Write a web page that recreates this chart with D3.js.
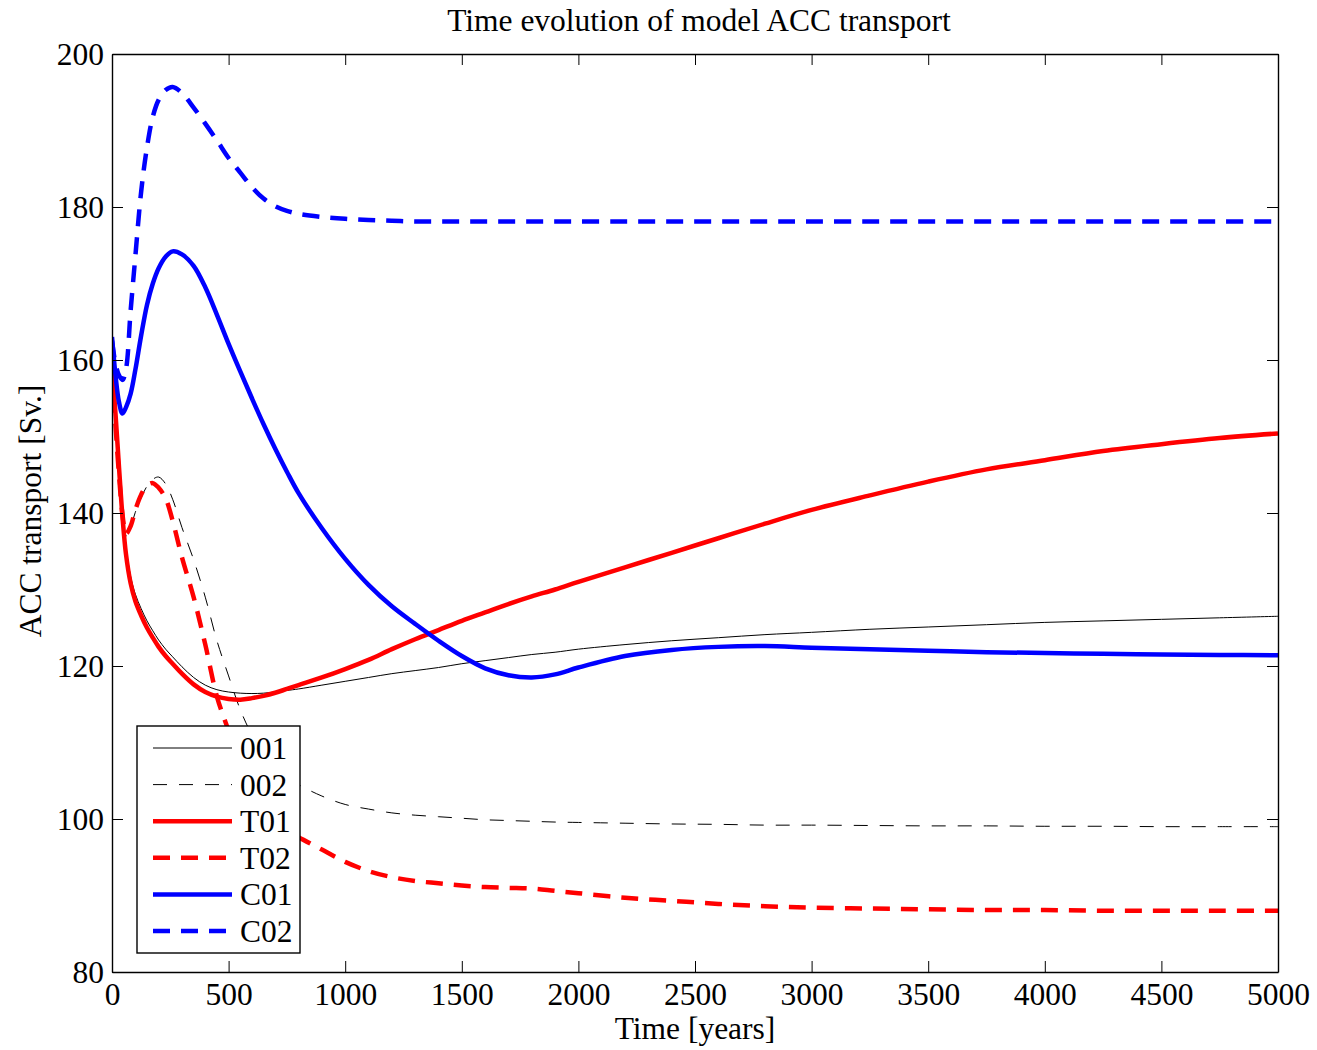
<!DOCTYPE html>
<html>
<head>
<meta charset="utf-8">
<script src="https://cdn.jsdelivr.net/npm/d3@7"></script>
<style>
  html, body { margin: 0; padding: 0; background: #fff; }
  svg { display: block; }
  text { font-family: "Liberation Serif", "Times New Roman", serif; fill: #000; }
</style>
</head>
<body>
<svg id="chart" width="1317" height="1050"></svg>
<script>
// ---- Data ----
const years = [0, 15, 30, 45, 60, 80, 100, 125, 150, 175, 200, 230, 260, 300, 350, 400, 450, 500, 550, 600,
  650, 700, 750, 800, 900, 1000, 1100, 1200, 1300, 1400, 1500, 1600, 1700, 1800, 1900, 2000, 2200, 2400, 2600, 2800,
  3000, 3250, 3500, 3750, 4000, 4250, 4500, 4750, 5000];

const s001 = [159, 153.3, 146.7, 140.3, 135.5, 131.7, 129.4, 127.5, 125.9, 124.6, 123.4, 122.2, 121.2, 119.9, 118.5, 117.5, 116.9, 116.6, 116.45, 116.4,
  116.45, 116.6, 116.8, 117.0, 117.5, 118.0, 118.5, 119.0, 119.4, 119.8, 120.3, 120.7, 121.1, 121.5, 121.8, 122.2, 122.8, 123.3, 123.7, 124.1,
  124.4, 124.8, 125.1, 125.4, 125.7, 125.9, 126.1, 126.3, 126.5];

const s002 = [159, 152, 145.5, 140, 137.0, 138.2, 140.1, 142.0, 143.5, 144.4, 144.7, 143.8, 141.8, 138.1, 133.9, 129.0, 123.3, 118.7, 114.3, 111.0,
  108.6, 106.9, 105.5, 104.5, 103.0, 101.9, 101.3, 100.8, 100.5, 100.3, 100.1, 99.9, 99.8, 99.7, 99.6, 99.55, 99.45, 99.35, 99.3, 99.2,
  99.2, 99.15, 99.1, 99.1, 99.05, 99.05, 99.0, 99.0, 99.0];

const sT01 = [159, 153, 146, 139.5, 134.6, 130.8, 128.5, 126.6, 125.0, 123.7, 122.5, 121.3, 120.3, 119.0, 117.6, 116.6, 116.0, 115.7, 115.6, 115.8,
  116.1, 116.5, 117.0, 117.5, 118.5, 119.6, 120.8, 122.2, 123.5, 124.7, 125.9, 127.0, 128.1, 129.1, 130.0, 131.0, 132.9, 134.8, 136.7, 138.6,
  140.4, 142.3, 144.1, 145.7, 146.9, 148.1, 149.0, 149.8, 150.4];

const sT02 = [159, 151.5, 145, 139.8, 137.3, 138.3, 140.4, 142.4, 143.6, 143.9, 143.3, 141.9, 139.0, 134.2, 129.0, 122.8, 116.0, 111.5, 107.0, 103.6,
  101.2, 99.5, 98.3, 97.6, 96.0, 94.4, 93.2, 92.4, 91.9, 91.6, 91.3, 91.1, 91.0, 90.9, 90.6, 90.3, 89.7, 89.3, 88.9, 88.6,
  88.4, 88.3, 88.2, 88.1, 88.1, 88.0, 88.0, 88.0, 88.0];

const sC01 = [163, 158, 154.5, 153.0, 153.8, 155.6, 158.7, 163.2, 167.2, 170.0, 172.0, 173.5, 174.2, 173.8, 172.3, 169.5, 165.9, 162.1, 158.5, 155.0,
  151.6, 148.4, 145.4, 142.6, 138.0, 134.0, 130.6, 127.8, 125.5, 123.3, 121.3, 119.7, 118.8, 118.5, 118.9, 119.8, 121.3, 122.1, 122.5, 122.6,
  122.4, 122.2, 122.0, 121.8, 121.7, 121.6, 121.5, 121.45, 121.4];

const sC02 = [162.5, 159.5, 158, 157.4, 158.8, 166.5, 173.5, 182, 187.8, 191.8, 194, 195.3, 195.7, 194.9, 193.0, 190.9, 188.7, 186.4, 184.5, 182.6,
  181.1, 180.1, 179.5, 179.1, 178.7, 178.45, 178.3, 178.2, 178.1, 178.1, 178.1, 178.1, 178.1, 178.1, 178.1, 178.1, 178.1, 178.1, 178.1, 178.1,
  178.1, 178.1, 178.1, 178.1, 178.1, 178.1, 178.1, 178.1, 178.1];

const seriesNames = ["001", "002", "T01", "T02", "C01", "C02"];
const seriesValues = [s001, s002, sT01, sT02, sC01, sC02];
const seriesColors = ["#000000", "#000000", "#ff0000", "#ff0000", "#0000ff", "#0000ff"];
const seriesWidths = [1, 1, 4.5, 4.5, 4.5, 4.5];
const seriesDash = [null, "14,12", null, "17,11", null, "17,11"];

const xTicks = [0, 500, 1000, 1500, 2000, 2500, 3000, 3500, 4000, 4500, 5000];
const yTicks = [80, 100, 120, 140, 160, 180, 200];

const titleText = "Time evolution of model ACC transport";
const xLabelText = "Time [years]";
const yLabelText = "ACC transport [Sv.]";

// ---- Layout ----
const svg = d3.select("#chart");
const pL = 112, pT = 54, pR = 1278, pB = 972;
const FS = 31.5;

const x = d3.scaleLinear().domain([0, 5000]).range([pL, pR]);
const y = d3.scaleLinear().domain([80, 200]).range([pB, pT]);

svg.append("defs").append("clipPath").attr("id", "plotclip")
  .append("rect").attr("x", pL).attr("y", pT).attr("width", pR - pL).attr("height", pB - pT);

// Lines
const line = d3.line().x(d => x(d[0])).y(d => y(d[1])).curve(d3.curveCatmullRom.alpha(0.5));
const gLines = svg.append("g").attr("clip-path", "url(#plotclip)");
seriesNames.forEach((name, i) => {
  const pts = years.map((t, k) => [t, seriesValues[i][k]]);
  gLines.append("path")
    .attr("d", line(pts))
    .attr("fill", "none")
    .attr("stroke", seriesColors[i])
    .attr("stroke-width", seriesWidths[i])
    .attr("stroke-dasharray", seriesDash[i])
    .attr("stroke-linejoin", "round");
});

// Axes (ticks inward on all four sides)
const tickLen = 11;
function styleAxis(g) {
  g.selectAll("path.domain").attr("stroke", "#000").attr("stroke-width", 1.4);
  g.selectAll(".tick line").attr("stroke", "#000").attr("stroke-width", 1);
  g.selectAll(".tick text").style("font-size", FS + "px").style("font-family", '"Liberation Serif", "Times New Roman", serif').attr("fill", "#000");
}
svg.append("g").attr("transform", `translate(0,${pB})`)
  .call(d3.axisBottom(x).tickValues(xTicks).tickFormat(d3.format("d")).tickSizeInner(-tickLen).tickSizeOuter(0).tickPadding(11))
  .call(styleAxis);
svg.append("g").attr("transform", `translate(0,${pT})`)
  .call(d3.axisTop(x).tickValues(xTicks).tickFormat("").tickSizeInner(-tickLen).tickSizeOuter(0))
  .call(styleAxis);
svg.append("g").attr("transform", `translate(${pL},0)`)
  .call(d3.axisLeft(y).tickValues(yTicks).tickFormat(d3.format("d")).tickSizeInner(-tickLen).tickSizeOuter(0).tickPadding(8))
  .call(styleAxis);
svg.append("g").attr("transform", `translate(${pR},0)`)
  .call(d3.axisRight(y).tickValues(yTicks).tickFormat("").tickSizeInner(-tickLen).tickSizeOuter(0))
  .call(styleAxis);

// Titles
svg.append("text").attr("x", (pL + pR) / 2 + 4).attr("y", 31)
  .attr("text-anchor", "middle").style("font-size", FS + "px").text(titleText);
svg.append("text").attr("x", (pL + pR) / 2).attr("y", 1039)
  .attr("text-anchor", "middle").style("font-size", FS + "px").text(xLabelText);
svg.append("text").attr("transform", `translate(41,${(pT + pB) / 2 - 2}) rotate(-90)`)
  .attr("text-anchor", "middle").style("font-size", FS + "px").text(yLabelText);

// Legend
const lg = svg.append("g").attr("transform", "translate(137,726)");
lg.append("rect").attr("width", 163).attr("height", 227).attr("fill", "#fff")
  .attr("stroke", "#000").attr("stroke-width", 1.4);
seriesNames.forEach((name, i) => {
  const ry = 22 + i * 36.6;
  lg.append("line").attr("x1", 16).attr("x2", 95).attr("y1", ry).attr("y2", ry)
    .attr("stroke", seriesColors[i]).attr("stroke-width", seriesWidths[i])
    .attr("stroke-dasharray", seriesDash[i]);
  lg.append("text").attr("x", 103).attr("y", ry).attr("dy", "0.35em")
    .style("font-size", FS + "px").text(name);
});
</script>
</body>
</html>
